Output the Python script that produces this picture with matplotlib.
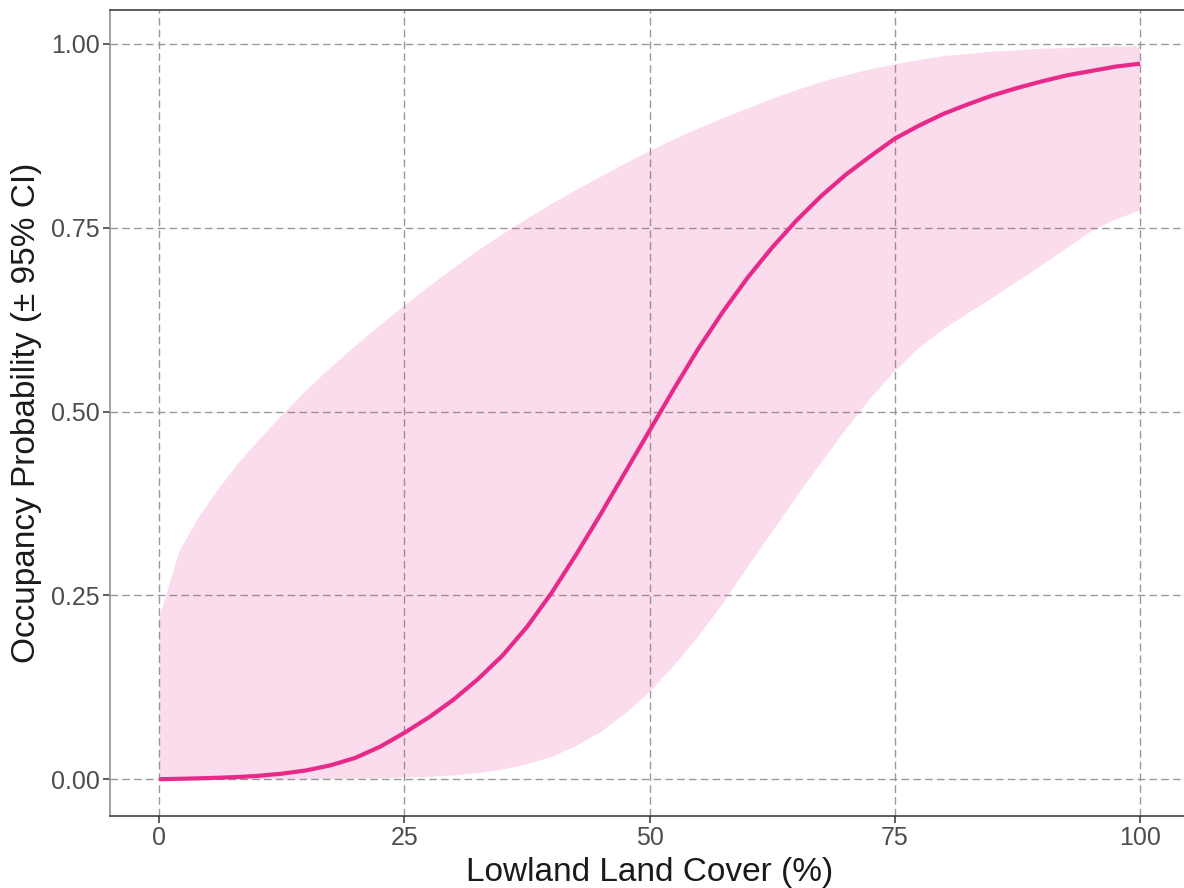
import matplotlib
matplotlib.use("Agg")
import matplotlib.pyplot as plt

plt.rcParams["font.family"] = ["Liberation Sans", "DejaVu Sans"]

# Lowland land cover (%) at which the model prediction was evaluated
cover = [0, 2, 4, 6, 8, 10, 12.5, 15, 17.5, 20, 22.5, 25, 27.5, 30, 32.5,
         35, 37.5, 40, 42.5, 45, 47.5, 50, 52.5, 55, 57.5, 60, 62.5, 65,
         67.5, 70, 72.5, 75, 77.5, 80, 82.5, 85, 87.5, 90, 92.5, 95, 97.5, 100]

# Predicted occupancy probability
occupancy = [0.000, 0.0006, 0.0012, 0.002, 0.003, 0.0045, 0.0075, 0.012,
             0.019, 0.029, 0.044, 0.063, 0.084, 0.108, 0.136, 0.168, 0.207,
             0.253, 0.305, 0.360, 0.417, 0.474, 0.531, 0.586, 0.636, 0.682,
             0.723, 0.760, 0.793, 0.822, 0.847, 0.871, 0.889, 0.905, 0.918,
             0.930, 0.940, 0.949, 0.957, 0.963, 0.969, 0.973]

# 95% confidence interval bounds
ci_lower = [0.000, 0.000, 0.000, 0.000, 0.000, 0.0002, 0.0005, 0.0008,
            0.001, 0.0015, 0.002, 0.003, 0.004, 0.006, 0.009, 0.014, 0.021,
            0.031, 0.046, 0.065, 0.090, 0.120, 0.156, 0.196, 0.241, 0.290,
            0.338, 0.386, 0.432, 0.477, 0.519, 0.556, 0.588, 0.613, 0.635,
            0.656, 0.678, 0.700, 0.723, 0.746, 0.762, 0.774]
ci_upper = [0.220, 0.310, 0.357, 0.395, 0.430, 0.460, 0.496, 0.530, 0.561,
            0.590, 0.618, 0.645, 0.671, 0.696, 0.720, 0.742, 0.763, 0.783,
            0.802, 0.820, 0.838, 0.855, 0.871, 0.886, 0.900, 0.913, 0.926,
            0.938, 0.949, 0.958, 0.966, 0.973, 0.979, 0.984, 0.987, 0.990,
            0.992, 0.994, 0.995, 0.996, 0.997, 0.997]

x_ticks = [0, 25, 50, 75, 100]
y_ticks = [0.00, 0.25, 0.50, 0.75, 1.00]
y_tick_labels = ["0.00", "0.25", "0.50", "0.75", "1.00"]

line_color = "#E7298A"

fig = plt.figure(figsize=(11.84, 8.88), dpi=100)
ax = fig.add_axes([110 / 1184, 72 / 888, 1079 / 1184, 806 / 888])

ax.fill_between(cover, ci_lower, ci_upper, color=line_color, alpha=0.16,
                linewidth=0, zorder=2)
ax.plot(cover, occupancy, color=line_color, linewidth=3.0,
        solid_capstyle="butt", solid_joinstyle="round", zorder=3)

ax.set_xlim(-5, 105)
ax.set_ylim(-0.05, 1.046)
ax.set_xticks(x_ticks)
ax.set_yticks(y_ticks)
ax.set_yticklabels(y_tick_labels)

ax.grid(True, color="#999999", linestyle=(0, (5.5, 3)), linewidth=1.0, zorder=1)
ax.set_axisbelow(True)

for side in ("top", "bottom"):
    ax.spines[side].set_color("#333333")
    ax.spines[side].set_linewidth(1.1)
ax.spines["left"].set_color("#888888")
ax.spines["left"].set_linewidth(1.1)
ax.spines["right"].set_visible(False)

ax.tick_params(axis="both", colors="#333333", length=5, width=1.1,
               labelsize=18, labelcolor="#4D4D4D", pad=2.5)

ax.set_xlabel("Lowland Land Cover (%)", fontsize=24, color="#1A1A1A", labelpad=5)
ax.set_ylabel("Occupancy Probability (± 95% CI)", fontsize=24, color="#1A1A1A",
              labelpad=6)

fig.savefig("out.png", dpi=100)
